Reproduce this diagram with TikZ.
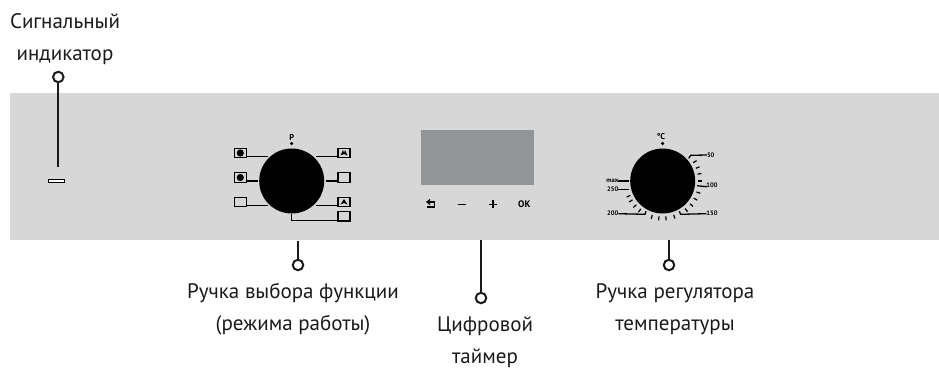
\documentclass[tikz,border=0pt]{standalone}
\usepackage{fontspec}
\setmainfont{PT Sans}
\usetikzlibrary{positioning,calc}
\definecolor{panelgray}{HTML}{D7D7D7}
\definecolor{screengray}{HTML}{929597}
\definecolor{inkblack}{HTML}{1A1A1A}
\tikzset{
    caption/.style={align=center, inner sep=0pt, text=inkblack, font=\fontsize{21}{32}\selectfont},
    ring/.style={draw=inkblack, line width=2pt, circle, fill=white, inner sep=0pt, minimum size=10.5pt},
    lead/.style={draw=inkblack, line width=2.2pt},
    knob/.style={draw=none, circle, fill=black, inner sep=0pt, minimum size=65pt},
    iconbox/.style={draw=black, line width=1.4pt, fill=panelgray, inner sep=0pt, minimum width=12pt, minimum height=9.5pt},
    wire/.style={draw=black, line width=1.3pt},
    tinylabel/.style={inner sep=0pt, font=\fontsize{6.5}{6.5}\selectfont\bfseries},
    marklabel/.style={inner sep=0pt, font=\fontsize{8.5}{8.5}\selectfont\bfseries},
    keylabel/.style={inner sep=0pt, font=\fontsize{9.5}{9.5}\selectfont\bfseries}
}
\begin{document}
\begin{tikzpicture}[x=1pt, y=-1pt]
    \useasboundingbox (0,0) rectangle (939,368);
    % Panel
    \fill[panelgray] (10,93) rectangle (939,240);

    % Signal lamp
    \node[draw=black, line width=0.7pt, fill=white, inner sep=0pt, minimum width=16pt, minimum height=3.5pt] (lamp) at (56.7,181) {};
    \coordinate (lampfoot) at (58.3,167);
    \node[ring] (lampring) at (58.3,77) {};
    \draw[lead] (lampfoot) -- (lampring);
    \node[caption] (lamptext) at (65,39) {Сигнальный\\индикатор};

    % Function knob
    \node[knob] (funcknob) at (291.7,181) {};
    \node[marklabel] (funcmark) at (291.7,137) {P};
    \node[circle, fill=black, inner sep=0pt, minimum size=3.5pt] (funcdot) at (291.7,143.5) {};

    \node[iconbox] (iconla) at (240.3,153) {};
    \node[iconbox] (iconlb) at (240.3,177.5) {};
    \node[iconbox] (iconlc) at (240.3,202) {};
    \node[iconbox] (iconra) at (344,153) {};
    \node[iconbox] (iconrb) at (344,177.5) {};
    \node[iconbox] (iconrc) at (344,202) {};
    \node[iconbox] (iconrd) at (344,216.2) {};

    % Icons in the boxes
    \fill[black] (iconla) circle (3.6pt);
    \fill[black] (iconlb) circle (3.6pt);
    \fill[black] ($(iconlc.south west)+(0,-1.2)$) rectangle (iconlc.south east);
    \fill[black] ($(iconrb.south west)+(0,-1.2)$) rectangle (iconrb.south east);
    \fill[black] ($(iconra)+(-3.5,2.5)$) -- ($(iconra)+(-1,-3)$) -- ($(iconra)+(0,0)$) -- ($(iconra)+(1,-3)$) -- ($(iconra)+(3.5,2.5)$) -- ($(iconra)+(0,1)$) -- cycle;
    \fill[black] ($(iconrc)+(-3.5,2.5)$) -- ($(iconrc)+(0,-3)$) -- ($(iconrc)+(3.5,2.5)$) -- ($(iconrc)+(0,1)$) -- cycle;

    \coordinate (wirela) at (267.7,156.5);
    \coordinate (wirelb) at (258.3,181);
    \coordinate (wirelc) at (267.7,205.7);
    \coordinate (wirera) at (316,156.5);
    \coordinate (wirerb) at (326,181);
    \coordinate (wirerc) at (316,205.7);
    \coordinate (wirerd) at (291.7,214);
    \draw[wire] (iconla.east |- wirela) -- (wirela);
    \draw[wire] (iconlb.east |- wirelb) -- (wirelb);
    \draw[wire] (iconlc.east |- wirelc) -- (wirelc);
    \draw[wire] (wirera) -- (iconra.west |- wirera);
    \draw[wire] (wirerb) -- (iconrb.west |- wirerb);
    \draw[wire] (wirerc) -- (iconrc.west |- wirerc);
    \draw[wire] (wirerd) |- ($(iconrd.south west)+(0,-1)$);

    \coordinate (funcfoot) at (298,241);
    \node[ring] (funcring) at (298,265) {};
    \draw[lead] (funcfoot) -- (funcring);
    \node[caption] (functext) at (293,309.5) {Ручка выбора функции\\(режима работы)};

    % Timer
    \node[draw=none, fill=screengray, inner sep=0pt, minimum width=113.5pt, minimum height=55pt] (screen) at (477.4,157.5) {};
    \draw[black, line width=1.2pt] (434.5,207) -- (426.5,207);
    \draw[black, line width=1.2pt] (434.5,207) -- (434.5,202) -- (427,202);
    \draw[black, line width=1.2pt] (430,199.5) -- (427,202) -- (430,204.5);
    \node[inner sep=0pt] (keyminus) at (461.7,204.3) {\rule{8pt}{1.4pt}};
    \node[inner sep=0pt] (keyplus) at (493,204.3) {\rule{8pt}{1.4pt}};
    \fill[black] ($(keyplus)+(-0.7,-4)$) rectangle ($(keyplus)+(0.7,4)$);
    \node[keylabel] (keyok) at (524.3,204.3) {OK};

    \coordinate (timerfoot) at (481,240);
    \node[ring] (timerring) at (481,298) {};
    \draw[lead] (timerfoot) -- (timerring);
    \node[caption] (timertext) at (485,342.5) {Цифровой\\таймер};

    % Temperature knob
    \node[knob] (tempknob) at (662.7,181) {};
    \node[marklabel] (tempmark) at (661,136.5) {°C};
    \node[circle, fill=black, inner sep=0pt, minimum size=3.5pt] (tempdot) at (662.7,143.5) {};

    \foreach \ang in {-31,-21,-11,0,18,29,40,51,72,85,96,107,128,138,148,156} {
        \draw[black, line width=1.2pt] ($(tempknob)+(\ang:35.5)$) -- ($(tempknob)+(\ang:39.5)$);
    }

    \node[tinylabel] (tempfifty) at (710.7,155) {50};
    \node[tinylabel] (temphundred) at (712,185.7) {100};
    \node[tinylabel] (tempfifteen) at (712,213.7) {150};
    \node[tinylabel] (temptwo) at (612.7,213.7) {200};
    \node[tinylabel] (temptwofive) at (612.7,189.7) {250};
    \node[tinylabel] (tempmax) at (612.3,181) {max};

    \coordinate (tickfifty) at (688.7,158.3);
    \coordinate (tickhundred) at (697,185.7);
    \coordinate (tickfifteen) at (679.3,211.3);
    \coordinate (ticktwo) at (646,211.3);
    \coordinate (ticktwofive) at (629.3,189.7);
    \coordinate (tickmax) at (629,181);
    \draw[wire] (tickfifty) -- (690.7,155.3) -- (tempfifty.west);
    \draw[wire] (tickhundred) -- (706,186.7) -- (temphundred.west);
    \draw[wire] (tickfifteen) -- (680.7,214.3) -- (tempfifteen.west);
    \draw[wire] (ticktwo) -- (645,214.3) -- (temptwo.east);
    \draw[wire] (ticktwofive) -- (temptwofive.east);
    \draw[wire] (tickmax) -- (tempmax.east);

    \coordinate (tempfoot) at (669,240);
    \node[ring] (tempring) at (669,265) {};
    \draw[lead] (tempfoot) -- (tempring);
    \node[caption] (temptext) at (675,309.5) {Ручка регулятора\\температуры};
\end{tikzpicture}
\end{document}
